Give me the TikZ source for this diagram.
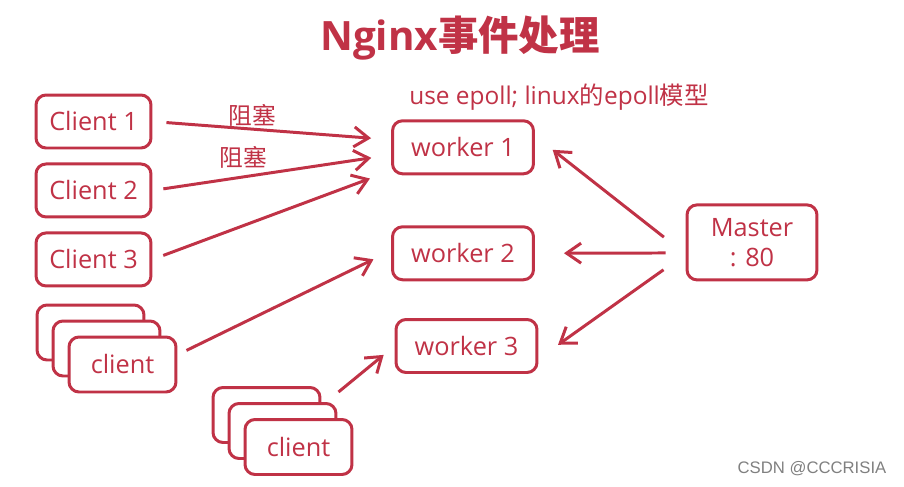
\documentclass[tikz,border=0pt]{standalone}
\usepackage{fontspec}
\setmainfont{Open Sans}
\newfontfamily\cjk{Noto Sans CJK SC}
\newfontfamily\wmfont{Liberation Sans}
\usetikzlibrary{arrows.meta, positioning}
\definecolor{nred}{RGB}{192,50,70}

\begin{document}
\begin{tikzpicture}[x=0.02cm, y=-0.02cm, >={Straight Barb[length=2.9mm,width=4mm]}]
        % 样式
        \tikzstyle{box} = [draw=nred, line width=1.7pt, rounded corners=0.2cm, fill=white, text=nred, align=center, font=\fontsize{14.4}{17}\selectfont]
        \tikzstyle{client} = [box, minimum width=2.3cm, minimum height=1.06cm]
        \tikzstyle{worker} = [box, minimum width=2.82cm, minimum height=1.06cm]
        \tikzstyle{stackbox} = [box, minimum width=2.14cm, minimum height=1.1cm]
        \tikzstyle{arr} = [->, draw=nred, line width=1.7pt]
        \tikzstyle{lbl} = [text=nred, inner sep=1pt, font=\cjk\fontsize{13.5}{16}\selectfont]

        \useasboundingbox (0,0) rectangle (904,487);

        % 标题
        \node[text=nred, font=\bfseries\fontsize{23}{28}\selectfont] (title) at (460,38) {Nginx{\cjk 事件处理}};
        \node[text=nred, font=\fontsize{13.9}{16}\selectfont] (epoll) at (559,97) {use epoll; linux{\cjk 的}epoll{\cjk 模型}};

        % 客户端
        \node[client] (c1) at (93.5,121.5) {Client 1};
        \node[client, below=0.26cm of c1] (c2) {Client 2};
        \node[client, below=0.26cm of c2] (c3) {Client 3};

        % 客户端组
        \node[stackbox] (s1a) at (90.5,332.5) {};
        \node[stackbox] (s1b) at ([shift={(16,16)}]s1a) {};
        \node[stackbox] (s1c) at ([shift={(16,16)}]s1b) {client};
        \node[stackbox] (s2a) at (266.5,415) {};
        \node[stackbox] (s2b) at ([shift={(16,16)}]s2a) {};
        \node[stackbox] (s2c) at ([shift={(16,16)}]s2b) {client};

        % worker 与 master
        \node[worker] (w1) at (463,147.3) {worker 1};
        \node[worker, below=1cm of w1] (w2) {worker 2};
        \node[worker] (w3) at (466.5,346) {worker 3};
        \node[box, minimum width=2.6cm, minimum height=1.5cm] (m) at (752,242.4) {Master\\: 80};

        % 连线
        \draw[arr, shorten <=0.28cm, shorten >=0.4cm] (c1.east) -- node[lbl, above, pos=0.42] (blk1) {阻塞} (w1.174);
        \draw[arr, shorten <=0.22cm, shorten >=0.4cm] (c2.east) -- node[lbl, above=3pt, pos=0.38] (blk2) {阻塞} (w1.186);
        \draw[arr, shorten <=0.23cm, shorten >=0.45cm] (c3.east) -- (w1.198);
        \draw[arr, shorten <=0.2cm, shorten >=0.39cm] (s1c.10) -- (w2.178);
        \draw[arr, shorten <=0.82cm, shorten >=0.28cm] (s2c.74) -- (w3.west);
        \draw[arr, shorten <=0.55cm, shorten >=0.45cm] (m.190) -- (w1.9);
        \draw[arr, shorten <=0.4cm, shorten >=0.58cm] (m.189) -- (w2.east);
        \draw[arr, shorten <=0.54cm, shorten >=0.48cm] (m.190) -- (w3.-10);

        \node[text=gray, font=\wmfont\fontsize{9.5}{11}\selectfont] (mark) at (812,469) {CSDN @CCCRISIA};
\end{tikzpicture}
\end{document}
